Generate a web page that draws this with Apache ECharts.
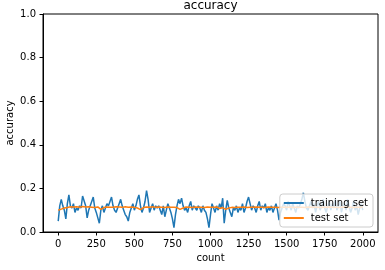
<!DOCTYPE html>
<html>
<head>
<meta charset="utf-8">
<script src="https://cdn.jsdelivr.net/npm/echarts@6/dist/echarts.min.js"></script>
<style>html,body{margin:0;padding:0;background:#fff}#c{width:385px;height:270px}</style>
</head>
<body>
<div id="c"></div>
<script>
// training accuracy, sampled every 10 counts (0..2000)
var trainStep = 10;
var trainAcc = [
0.05,0.12,0.15,0.12,0.10,0.06,0.13,0.17,0.12,0.11,
0.13,0.09,0.11,0.10,0.12,0.11,0.165,0.16,0.12,0.065,
0.10,0.12,0.14,0.16,0.11,0.09,0.065,0.04,0.10,0.12,
0.09,0.11,0.13,0.12,0.14,0.16,0.12,0.10,0.09,0.11,
0.13,0.15,0.12,0.10,0.08,0.07,0.05,0.09,0.11,0.13,
0.10,0.12,0.15,0.17,0.12,0.09,0.11,0.14,0.19,0.15,
0.09,0.11,0.13,0.10,0.12,0.11,0.12,0.10,0.08,0.12,
0.07,0.10,0.13,0.11,0.09,0.06,0.02,0.08,0.12,0.15,
0.13,0.155,0.12,0.10,0.11,0.09,0.12,0.14,0.10,0.12,
0.11,0.10,0.12,0.11,0.09,0.12,0.10,0.09,0.06,0.02,
0.08,0.13,0.11,0.09,0.12,0.10,0.13,0.11,0.155,0.04,
0.10,0.145,0.11,0.09,0.07,0.11,0.10,0.12,0.09,0.11,
0.10,0.13,0.09,0.11,0.14,0.16,0.13,0.10,0.12,0.11,
0.09,0.12,0.14,0.10,0.12,0.11,0.13,0.09,0.11,0.10,
0.12,0.09,0.11,0.13,0.10,0.055,0.09,0.11,0.13,0.12,
0.10,0.14,0.12,0.10,0.13,0.11,0.09,0.12,0.11,0.13,
0.15,0.18,0.14,0.11,0.10,0.12,0.14,0.11,0.13,0.09,
0.12,0.14,0.10,0.12,0.15,0.11,0.09,0.12,0.14,0.10,
0.13,0.11,0.15,0.10,0.12,0.14,0.09,0.12,0.13,0.10,
0.15,0.12,0.09,0.11,0.14,0.10,0.12,0.08,0.11,0.13,
0.10
];
// test accuracy, sampled every 20 counts (0..2000)
var testStep = 20;
var testAcc = [
0.100,0.105,0.110,0.112,0.116,0.115,0.116,0.114,0.117,0.115,
0.116,0.114,0.112,0.115,0.104,0.112,0.115,0.113,0.114,0.116,
0.115,0.113,0.116,0.114,0.115,0.113,0.110,0.103,0.112,0.115,
0.114,0.116,0.113,0.115,0.114,0.112,0.115,0.113,0.114,0.112,
0.104,0.110,0.115,0.114,0.112,0.115,0.113,0.114,0.112,0.115,
0.114,0.113,0.115,0.108,0.112,0.104,0.110,0.113,0.112,0.114,
0.113,0.115,0.112,0.114,0.113,0.115,0.113,0.114,0.112,0.115,
0.113,0.114,0.112,0.113,0.114,0.113,0.115,0.112,0.114,0.113,
0.114,0.112,0.115,0.113,0.114,0.113,0.112,0.114,0.113,0.115,
0.113,0.114,0.112,0.113,0.115,0.113,0.114,0.112,0.113,0.114,
0.113
];
var xTicks = [0, 250, 500, 750, 1000, 1250, 1500, 1750, 2000];
var yTicks = [0, 0.2, 0.4, 0.6, 0.8, 1.0];

function pairs(vals, step) {
  var out = [];
  for (var i = 0; i < vals.length; i++) out.push([i * step, vals[i]]);
  return out;
}

var font = 'DejaVu Sans';
var chart = echarts.init(document.getElementById('c'), null, {renderer: 'canvas'});
chart.setOption({
  animation: false,
  backgroundColor: '#fff',
  title: {
    text: 'accuracy', left: 210.5, top: 0, textAlign: 'center', padding: 0,
    textStyle: {fontFamily: font, fontSize: 12, fontWeight: 'normal', color: '#000'}
  },
  grid: {left: 43, right: 7, top: 14, bottom: 38, containLabel: false, outerBoundsMode: 'none',
    show: true, borderColor: '#000', borderWidth: 1, backgroundColor: 'transparent'},
  xAxis: {
    type: 'value', min: -100, max: 2100,
    name: 'count', nameLocation: 'middle', nameGap: 21, nameMoveOverlap: false,
    nameTextStyle: {fontFamily: font, fontSize: 10, color: '#000'},
    axisLine: {show: true, onZero: false, lineStyle: {color: '#000', width: 1}},
    axisTick: {show: true, length: 3.5, customValues: xTicks, lineStyle: {color: '#000'}},
    axisLabel: {customValues: xTicks, margin: 7, fontFamily: font, fontSize: 10, color: '#000',
      formatter: function (v) { return String(v); }},
    splitLine: {show: false}
  },
  yAxis: {
    type: 'value', min: 0, max: 1,
    name: 'accuracy', nameLocation: 'middle', nameGap: 28, nameRotate: 90, nameMoveOverlap: false,
    nameTextStyle: {fontFamily: font, fontSize: 10, color: '#000'},
    axisLine: {show: true, onZero: false, lineStyle: {color: '#000', width: 1}},
    axisTick: {show: true, length: 3.5, customValues: yTicks, lineStyle: {color: '#000'}},
    axisLabel: {customValues: yTicks, margin: 7, fontFamily: font, fontSize: 10, color: '#000',
      formatter: function (v) { return v.toFixed(1); }},
    splitLine: {show: false}
  },
  legend: {
    orient: 'vertical', right: 12, top: 194,
    padding: [3, 5, 3, 4], itemGap: 3, itemWidth: 20, itemHeight: 2,
    icon: 'rect',
    backgroundColor: 'rgba(255,255,255,0.8)', borderColor: '#cccccc', borderWidth: 1, borderRadius: 3,
    textStyle: {fontFamily: font, fontSize: 10, color: '#000', padding: [0, 0, 0, 2], lineHeight: 12},
    data: ['training set', 'test set']
  },
  series: [
    {name: 'training set', type: 'line', data: pairs(trainAcc, trainStep), showSymbol: false, symbol: 'none',
      lineStyle: {color: '#1f77b4', width: 1.5}, itemStyle: {color: '#1f77b4'}},
    {name: 'test set', type: 'line', data: pairs(testAcc, testStep), showSymbol: false, symbol: 'none',
      lineStyle: {color: '#ff7f0e', width: 1.5}, itemStyle: {color: '#ff7f0e'}}
  ]
});
</script>
</body>
</html>
